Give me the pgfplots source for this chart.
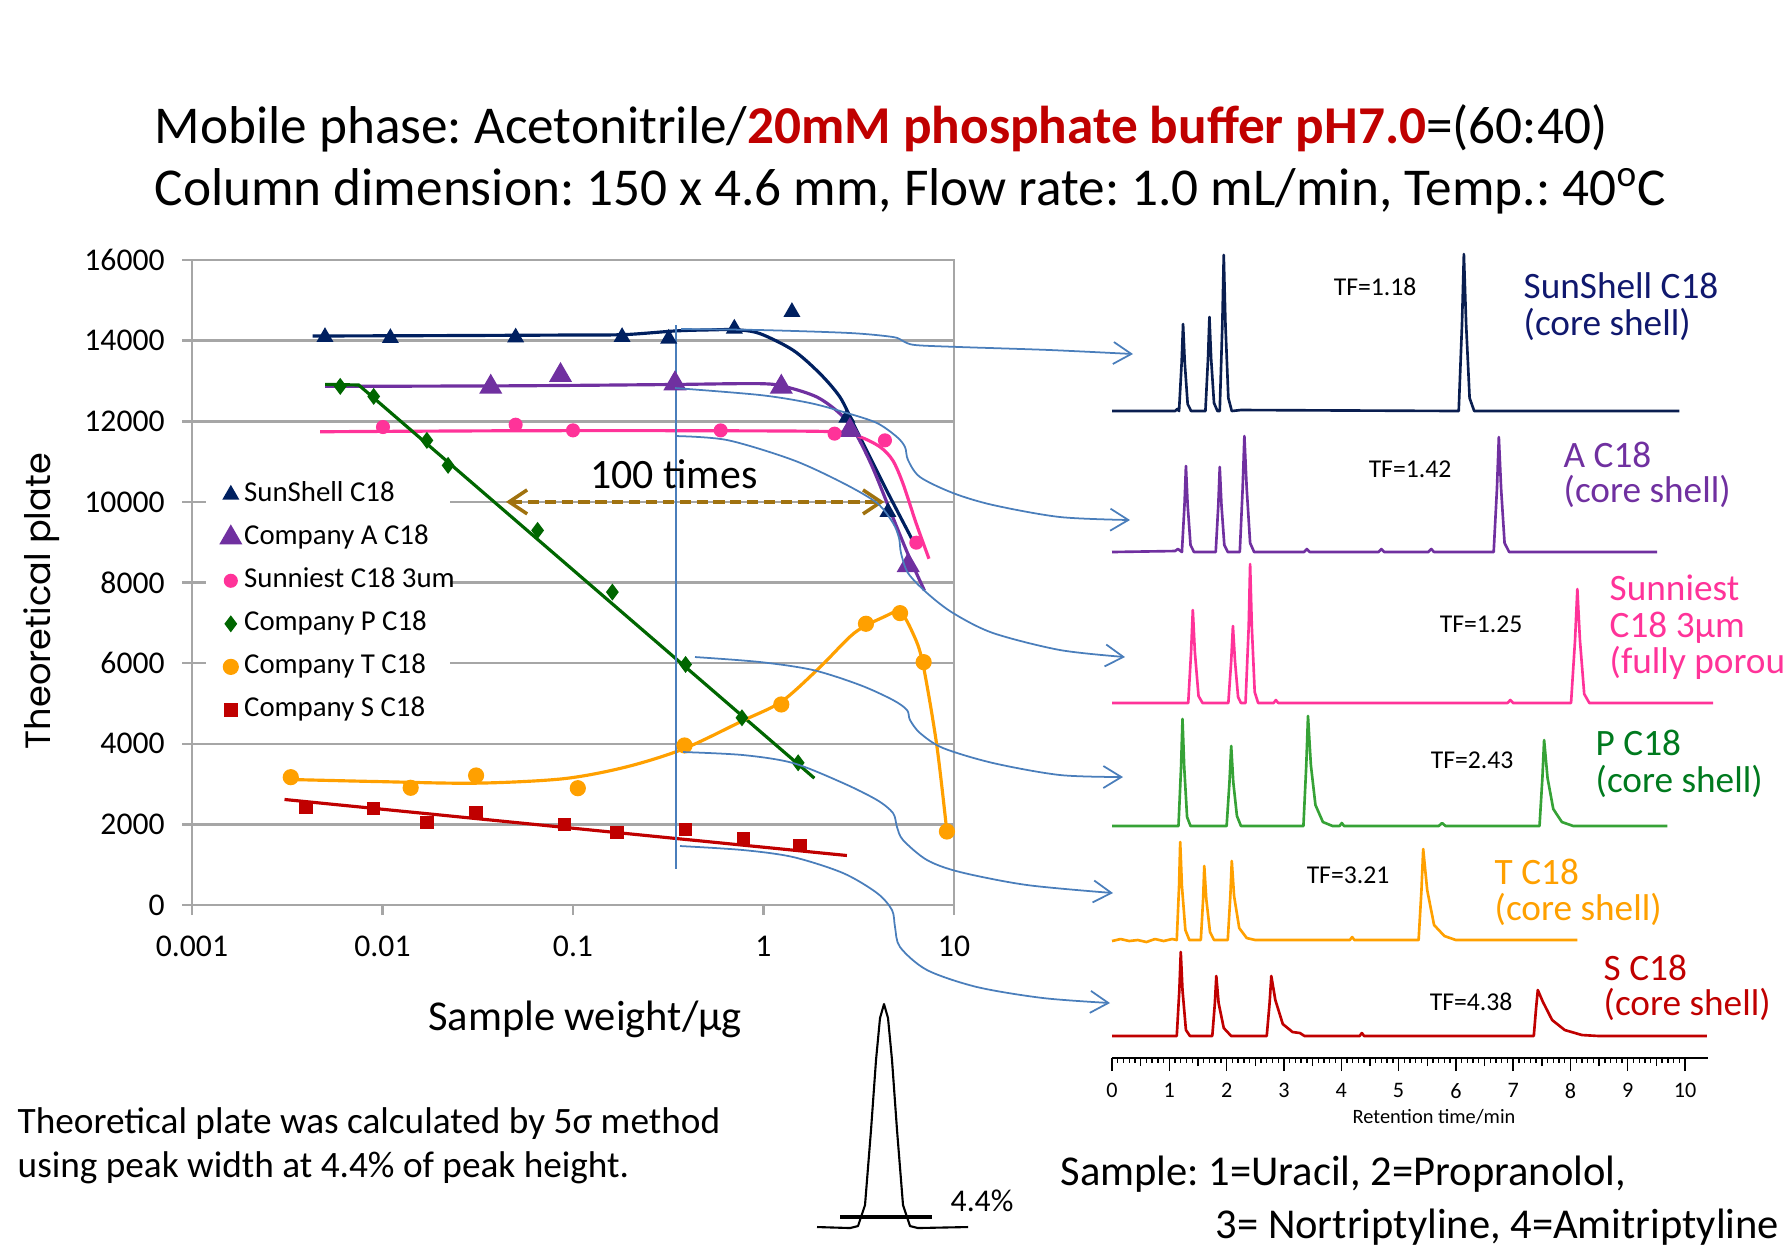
\documentclass[border=0pt]{standalone}
\usepackage{pgfplots}
\pgfplotsset{compat=1.18}
\usepackage{fontspec}
\setmainfont{Carlito}
\newfontfamily\popp{Poppins}
\usetikzlibrary{arrows.meta}
\frenchspacing
\definecolor{navy}{HTML}{002060}
\definecolor{navytr}{HTML}{0A1E50}
\definecolor{navylab}{HTML}{10186E}
\definecolor{purp}{HTML}{7030A0}
\definecolor{pinkc}{HTML}{FF3399}
\definecolor{dgreen}{HTML}{006600}
\definecolor{trgreen}{HTML}{36A236}
\definecolor{labgreen}{HTML}{007A1E}
\definecolor{orng}{HTML}{FFA000}
\definecolor{dred}{HTML}{C00000}
\definecolor{conn}{HTML}{4A7EBB}
\definecolor{arrowc}{HTML}{A0720F}
\definecolor{gridc}{HTML}{A6A6A6}
\begin{document}
\begin{tikzpicture}
\useasboundingbox (0,0) rectangle (178.4mm,-124.9mm);

% ---------------- main plot ----------------
\begin{axis}[
  at={(19.2mm,-90.5mm)}, anchor=south west, scale only axis,
  width=76.2mm, height=64.5mm,
  xmode=log, xmin=0.001, xmax=10, ymin=0, ymax=16000,
  scaled y ticks=false,
  xtick={0.001,0.01,0.1,1,10}, xticklabels={0.001,0.01,0.1,1,10},
  xminorticks=false,
  ytick={0,2000,4000,6000,8000,10000,12000,14000,16000},
  yticklabels={0,2000,4000,6000,8000,10000,12000,14000,16000},
  tick align=outside, major tick length=1.0mm,
  xtick pos=left, ytick pos=left,
  tick style={gridc, line width=0.7pt},
  ymajorgrids, grid style={gridc, line width=0.7pt},
  axis line style={gridc, line width=0.7pt},
  ticklabel style={font=\fontsize{9}{10}\selectfont},
  xticklabel style={yshift=-0.9mm},
  yticklabel style={xshift=-0.5mm},
  legend style={at={(0.018,0.670)}, anchor=north west, draw=none, fill=none,
    font=\fontsize{8.2}{9}\selectfont, row sep=4.25pt,
    nodes={inner sep=0pt, text height=6pt, text depth=2pt},
    inner xsep=4pt, inner ysep=2pt},
  legend cell align=left,
  legend image code/.code={\draw[#1] plot coordinates {(0.1cm,0cm)};},
]
% white legend background (drawn over the grid, under the data)
\fill[white] (rel axis cs:0.018,0.271) rectangle (rel axis cs:0.339,0.674);
% curves
\addplot[navy, line width=0.9pt, smooth, forget plot] coordinates {(0.0043,14115)(0.02,14125)(0.1,14140)(0.187,14150)(0.343,14240)(0.5,14265)(0.72,14270)(0.958,14174)(1.434,13759)(1.98,13181)(2.52,12600)(2.96,11940)(3.48,11278)(4.43,10285)(6.0,9087)};
\addplot[purp, line width=0.9pt, smooth, forget plot] coordinates {(0.005,12865)(0.05,12880)(0.3,12910)(0.958,12933)(1.32,12849)(1.91,12600)(2.52,12188)(3.05,11692)(3.73,10864)(4.77,9623)(5.82,8630)(6.99,7804)};
\addplot[pinkc, line width=0.9pt, smooth, forget plot] coordinates {(0.0047,11740)(0.05,11765)(0.5,11765)(2.4,11740)(3.23,11608)(4.10,11360)(4.77,11030)(5.4,10452)(6.34,9459)(7.39,8590)};
\addplot[dgreen, line width=0.9pt, forget plot] coordinates {(0.005,12915)(0.0075,12900)(1.85,3146)};
\addplot[orng, line width=0.9pt, smooth, forget plot] coordinates {(0.0033,3114)(0.00913,3064)(0.0305,3022)(0.0882,3131)(0.188,3419)(0.379,3870)(0.783,4578)(1.246,5050)(1.98,5901)(3.0,6750)(4.3,7150)(5.22,7266)(6.1,6730)(6.84,6025)(8.1,4000)(9.16,1849)};
\addplot[dred, line width=0.9pt, forget plot] coordinates {(0.00306,2618)(2.74,1228)};
% markers
\addplot[only marks, mark=triangle*, mark size=2.4pt, navy, mark options={fill=navy}] coordinates {(0.00499,14089)(0.0110,14065)(0.050,14080)(0.181,14090)(0.318,14050)(0.703,14298)(1.41,14710)(2.74,12090)(4.50,9748)};
\addlegendentry{\hspace{0.3mm}SunShell C18}
\addplot[only marks, mark=triangle*, mark size=3.4pt, purp, mark options={fill=purp}] coordinates {(0.037,12850)(0.086,13140)(0.343,12935)(1.24,12850)(2.84,11776)(5.75,8425)};
\addlegendentry{\hspace{0.3mm}Company A C18}
\addplot[only marks, mark=*, mark size=1.8pt, pinkc, mark options={fill=pinkc}] coordinates {(0.01006,11857)(0.05,11915)(0.1,11774)(0.596,11774)(2.36,11693)(4.34,11527)(6.34,8988)};
\addlegendentry{\hspace{0.3mm}Sunniest C18 3um}
\addplot[only marks, mark=diamond*, mark size=2.1pt, dgreen, mark options={fill=dgreen}] coordinates {(0.0060,12865)(0.00899,12617)(0.0171,11526)(0.0221,10906)(0.0652,9293)(0.161,7763)(0.39,5968)(0.771,4645)(1.52,3528)};
\addlegendentry{\hspace{0.3mm}Company P C18}
\addplot[only marks, mark=*, mark size=2.1pt, orng, mark options={fill=orng}] coordinates {(0.0033,3171)(0.01406,2908)(0.031,3213)(0.106,2898)(0.385,3958)(1.24,4975)(3.45,6977)(5.21,7241)(6.93,6025)(9.18,1824)};
\addlegendentry{\hspace{0.3mm}Company T C18}
\addplot[only marks, mark=square*, mark size=1.7pt, dred, mark options={fill=dred}] coordinates {(0.00397,2427)(0.009,2387)(0.0171,2055)(0.031,2288)(0.0901,1990)(0.170,1792)(0.39,1866)(0.787,1658)(1.556,1476)};
\addlegendentry{\hspace{0.3mm}Company S C18}
% annotations
\addplot[conn, line width=0.5pt, forget plot] coordinates {(0.346,14380)(0.346,906)};
\addplot[arrowc, line width=1.1pt, dash pattern=on 3.2pt off 1.6pt, forget plot,
  {Straight Barb[length=1.8mm,width=2.4mm,line width=1pt]}-{Straight Barb[length=1.8mm,width=2.4mm,line width=1pt]}]
  coordinates {(0.0445,10000)(4.30,10000)};
\end{axis}

% ---------------- chromatograms ----------------
\begin{axis}[
  at={(111.2mm,-105.8mm)}, anchor=south west, scale only axis,
  width=59.6mm, height=81.8mm,
  xmin=0, xmax=10.4, ymin=240, ymax=1058, y dir=reverse,
  axis x line*=bottom, axis y line=none, clip=false,
  xtick={0,1,...,10}, xticklabels={0,1,2,3,4,5,6,7,8,9,10}, minor x tick num=9,
  extra x ticks={0.5,1.5,2.5,3.5,4.5,5.5,6.5,7.5,8.5,9.5}, extra x tick labels={},
  extra x tick style={major tick length=0.8mm},
  tick align=outside, major tick length=1.3mm, minor tick length=0.45mm,
  xtick pos=left,
  axis line style={black, line width=0.5pt}, tick style={black, line width=0.4pt},
  ticklabel style={font=\fontsize{6.3}{7}\selectfont},
  line join=round,
]
\addplot[navytr, line width=0.75pt] coordinates {(0,411)(1.10,411)(1.14,409)(1.17,411)(1.215,363)(1.24,324)(1.27,363)(1.32,404)(1.38,411)(1.63,411)(1.675,359)(1.70,317)(1.73,359)(1.78,403)(1.84,411)(1.88,411)(1.925,325)(1.95,255)(1.98,325)(2.03,398)(2.09,411)(2.25,410)(6.05,411)(6.107,325)(6.14,254)(6.18,325)(6.24,398)(6.32,411)(9.9,411)};
\addplot[purp, line width=0.75pt] coordinates {(0,552)(1.10,551)(1.15,549)(1.22,552)(1.265,505)(1.29,466)(1.32,505)(1.37,545)(1.43,552)(1.81,552)(1.855,505)(1.88,467)(1.91,505)(1.96,545)(2.02,552)(2.23,552)(2.28,488)(2.31,436)(2.35,488)(2.41,543)(2.48,552)(3.35,552)(3.4,549)(3.45,552)(4.65,552)(4.7,549)(4.75,552)(5.52,552)(5.57,549)(5.62,552)(6.66,552)(6.717,489)(6.75,437)(6.79,489)(6.85,543)(6.93,552)(9.51,552)};
\addplot[pinkc, line width=0.75pt] coordinates {(0,703)(1.33,703)(1.38,652)(1.41,610)(1.446,652)(1.51,696)(1.58,703)(2.03,703)(2.08,661)(2.11,626)(2.146,661)(2.2,697)(2.25,703)(2.33,703)(2.385,627)(2.41,564)(2.44,627)(2.49,692)(2.55,703)(2.82,703)(2.86,700)(2.9,703)(6.9,703)(6.95,700)(7.0,703)(8.01,703)(8.08,640)(8.12,589)(8.165,640)(8.24,694)(8.33,703)(10.49,703)};
\addplot[trgreen, line width=0.75pt] coordinates {(0,826)(1.16,826)(1.205,767)(1.23,719)(1.26,767)(1.31,817)(1.37,826)(2.0,826)(2.05,782)(2.08,746)(2.116,782)(2.18,816)(2.25,826)(3.34,826)(3.39,765)(3.42,716)(3.47,765)(3.55,805)(3.68,822)(3.85,826)(3.97,826)(4.01,823)(4.05,826)(5.70,826)(5.76,823)(5.82,826)(7.46,826)(7.51,778)(7.54,740)(7.6,778)(7.7,809)(7.85,822)(8.05,826)(9.69,826)};
\addplot[orng, line width=0.75pt] coordinates {(0,941)(0.15,939)(0.3,941)(0.45,940)(0.6,942)(0.75,939)(0.9,941)(1.05,939)(1.13,940)(1.17,886)(1.19,842)(1.22,886)(1.28,930)(1.35,940)(1.55,940)(1.59,899)(1.61,866)(1.645,899)(1.71,932)(1.78,940)(2.02,940)(2.065,896)(2.09,861)(2.13,896)(2.22,928)(2.35,938)(2.5,940)(4.15,940)(4.19,937)(4.23,940)(5.35,940)(5.40,890)(5.43,849)(5.5,890)(5.62,925)(5.8,936)(6.0,940)(8.12,940)};
\addplot[dred, line width=0.75pt] coordinates {(0,1036)(1.13,1036)(1.175,990)(1.2,952)(1.23,990)(1.29,1030)(1.36,1036)(1.75,1036)(1.795,1003)(1.82,976)(1.86,1003)(1.95,1028)(2.08,1036)(2.70,1036)(2.75,1003)(2.78,976)(2.85,1000)(2.98,1024)(3.15,1032)(3.28,1033)(3.36,1036)(4.32,1036)(4.36,1033)(4.40,1036)(7.36,1036)(7.40,1008)(7.43,990)(7.52,1002)(7.68,1020)(7.9,1030)(8.2,1035)(8.5,1036)(10.38,1036)};
\end{axis}

% ---------------- overlay: connectors and peak sketch ----------------
\begin{axis}[
  at={(0mm,0mm)}, anchor=north west, scale only axis,
  width=178.4mm, height=124.9mm,
  xmin=0, xmax=1784, ymin=0, ymax=1249, y dir=reverse,
  hide axis, clip=false,
]
\pgfplotsset{cstyle/.style={conn, line width=0.5pt, smooth, -{Straight Barb[length=1.8mm,width=2.2mm]}}}
\addplot[cstyle] coordinates {(681,329)(760,330)(850,333)(893,337)(903,341)(915,345)(960,347)(1050,350)(1133,354)};
\addplot[cstyle] coordinates {(675,388)(760,395)(810,403)(847,413)(877,423)(897,437)(905,447)(908,460)(920,477)(953,493)(993,505)(1060,517)(1130,520)};
\addplot[cstyle] coordinates {(675,436)(727,440)(793,460)(843,483)(877,503)(893,523)(899,538)(901,553)(908,573)(927,593)(953,613)(993,633)(1060,650)(1125,657)};
\addplot[cstyle] coordinates {(695,657)(760,662)(813,670)(860,685)(893,700)(907,710)(910,720)(920,733)(943,748)(993,763)(1060,775)(1123,777)};
\addplot[cstyle] coordinates {(683,752)(743,755)(793,763)(843,783)(877,800)(893,813)(897,827)(903,840)(927,860)(960,872)(1027,885)(1113,893)};
\addplot[cstyle] coordinates {(680,846)(743,850)(793,857)(843,873)(877,893)(892,910)(895,927)(900,947)(927,970)(977,987)(1043,998)(1110,1003)};
% peak sketch
\addplot[black, line width=0.6pt, line join=round] coordinates {(817,1227)(850,1228)(858,1226)(865,1205)(871,1130)(876,1060)(880,1018)(884,1004)(888,1018)(892,1060)(897,1130)(903,1205)(910,1226)(918,1228)(968,1227)};
\addplot[black, line width=0.9pt] coordinates {(840,1217)(932,1217)};
\end{axis}

% ---------------- texts ----------------
\begin{scope}[x=0.1mm,y=-0.1mm]
\node[anchor=base west, inner sep=0pt] at (154,143) {\fontsize{15.15}{18}\selectfont Mobile phase: Acetonitrile/\textcolor{dred}{\textbf{20mM phosphate buffer pH7.0}}=(60:40)};
\node[anchor=base west, inner sep=0pt] at (154,205) {\fontsize{15.15}{18}\selectfont Column dimension: 150 x 4.6 mm, Flow rate: 1.0 mL/min, Temp.: 40\textsuperscript{o}C};

\node[rotate=90, inner sep=0pt] at (42,601) {\popp\fontsize{10}{12}\selectfont Theoretical plate};
\node[anchor=base, inner sep=0pt] at (585,1030) {\fontsize{12.1}{14}\selectfont Sample weight/µg};
\node[anchor=base, inner sep=0pt] at (674,488) {\fontsize{11.9}{14}\selectfont 100 times};

\node[anchor=base west, inner sep=0pt] at (17,1133) {\fontsize{10.6}{12}\selectfont Theoretical plate was calculated by 5σ method};
\node[anchor=base west, inner sep=0pt] at (17,1177) {\fontsize{10.6}{12}\selectfont using peak width at 4.4\% of peak height.};
\node[anchor=base west, inner sep=0pt] at (950,1211) {\fontsize{9}{11}\selectfont 4.4\%};

\node[anchor=base west, inner sep=0pt] at (1060,1185) {\fontsize{12.1}{14}\selectfont Sample: 1=Uracil, 2=Propranolol,};
\node[anchor=base west, inner sep=0pt] at (1215,1238) {\fontsize{12.1}{14}\selectfont 3= Nortriptyline, 4=Amitriptyline};

\node[anchor=base, inner sep=0pt] at (1434,1123) {\fontsize{5.8}{7}\selectfont Retention time/min};

% TF labels
\foreach \x/\y/\t in {1375/295/1.18, 1410/477/1.42, 1481/632/1.25, 1472/768/2.43, 1348/883/3.21, 1471/1010/4.38}
  \node[anchor=base, inner sep=0pt] at (\x,\y) {\fontsize{7.3}{9}\selectfont TF=\t};

% column labels
\begin{scope}[every node/.style={anchor=base west, inner sep=0pt, font=\fontsize{10.6}{12}\selectfont}]
\node[text=navylab] at (1523,298) {SunShell C18};
\node[text=navylab] at (1523,335) {(core shell)};
\node[text=purp] at (1563,467) {A C18};
\node[text=purp] at (1563,502) {(core shell)};
\node[text=pinkc] at (1609,600) {Sunniest};
\node[text=pinkc] at (1609,637) {C18 3µm};
\node[text=pinkc] at (1609,673) {(fully porous)};
\node[text=labgreen] at (1595,755) {P C18};
\node[text=labgreen] at (1595,792) {(core shell)};
\node[text=orng] at (1494,884) {T C18};
\node[text=orng] at (1494,920) {(core shell)};
\node[text=dred] at (1603,980) {S C18};
\node[text=dred] at (1603,1015) {(core shell)};
\end{scope}
\end{scope}
\end{tikzpicture}
\end{document}
